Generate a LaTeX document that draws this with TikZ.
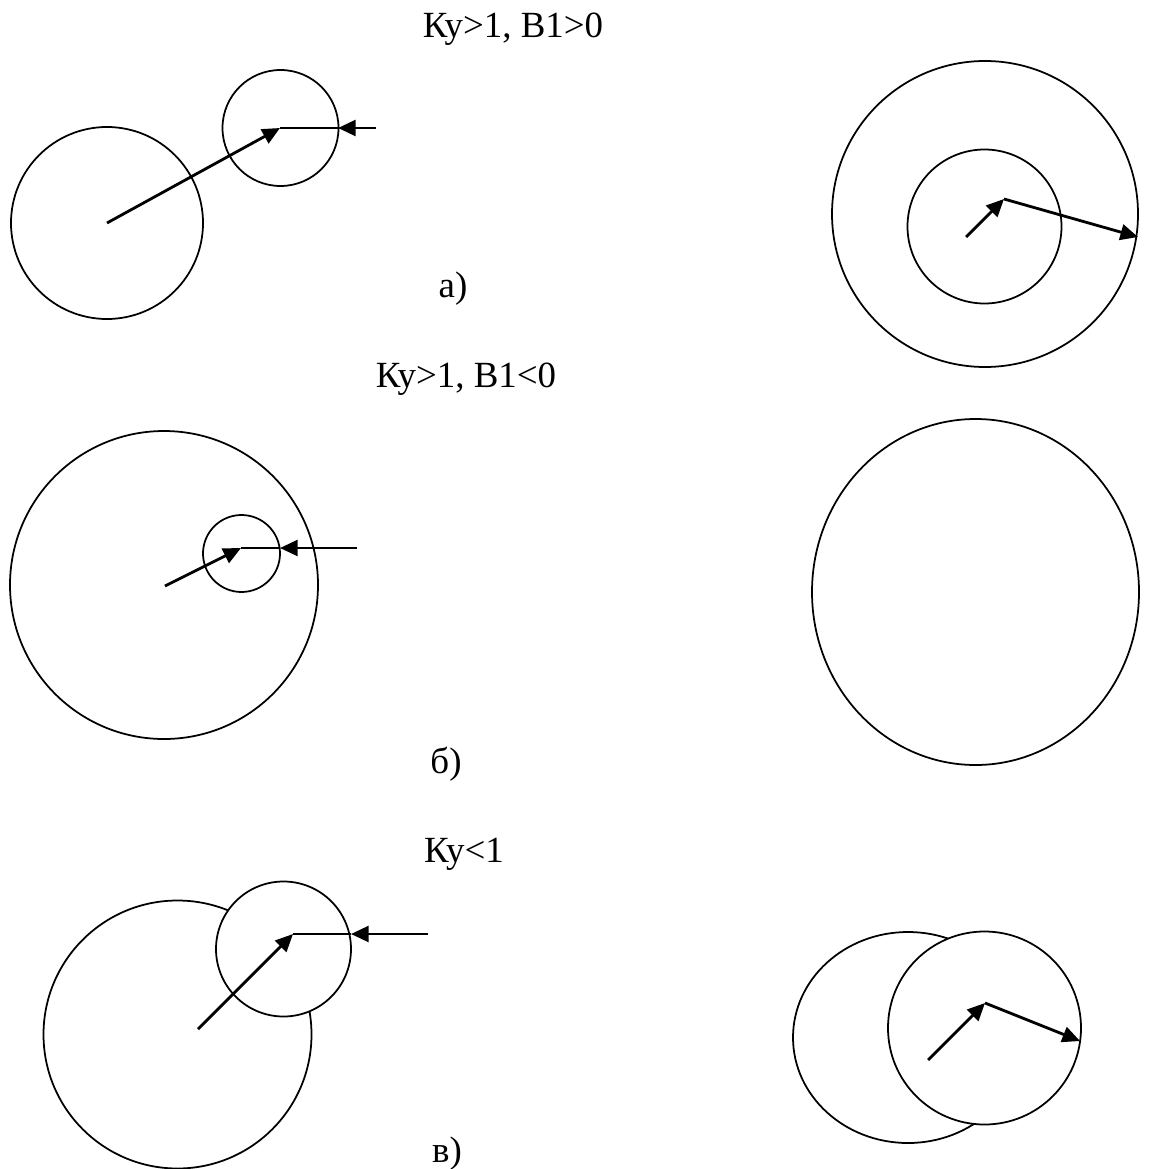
\documentclass[tikz,border=0pt]{standalone}
\usepackage{fontspec}
\setmainfont{Liberation Serif}
\usetikzlibrary{arrows.meta}

\tikzset{
  rim/.style={line width=1pt},
  vec/.style={->, line width=1.6pt},
  link/.style={line width=0.7pt},
  caption/.style={font=\fontsize{21}{25}\selectfont, anchor=base, inner sep=0pt},
}

\begin{document}
\begin{tikzpicture}[>={Triangle[length=10pt, width=9pt]}, x=0.02cm, y=-0.02cm]
\useasboundingbox (0,0) rectangle (1149,1169);

% === Случай а) ===
\node[caption] (titleA) at (513,38) {Ку>1, В1>0};
\coordinate (aO) at (107,223);
\coordinate (aP) at (280,128);
\coordinate (aE) at (338,128);
\coordinate (aF) at (376,128);
\draw[rim] (aO) circle[radius=96];
\draw[rim] (280.5,128) circle[radius=58];
\draw[vec] (aO) -- (aP);
\draw[link] (aP) -- (aE);
\draw[vec] (aF) -- (aE);
\node[caption] (labA) at (453,297) {а)};

% right
\coordinate (aS) at (966,237);
\coordinate (aT) at (1004,199);
\coordinate (aU) at (1138,237);
\draw[rim] (985,214) circle[radius=153];
\draw[rim] (984.5,226.5) circle[radius=77];
\draw[vec] (aS) -- (aT);
\draw[vec] (aT) -- (aU);

% === Случай б) ===
\node[caption] (titleB) at (466,387) {Ку>1, В1<0};
\coordinate (bO) at (165,586);
\coordinate (bP) at (241,548);
\coordinate (bE) at (280,548);
\coordinate (bF) at (357,548);
\draw[rim] (164,585) circle[radius=154];
\draw[rim] (241.5,553.5) circle[radius=38.5];
\draw[vec] (bO) -- (bP);
\draw[link] (bP) -- (bE);
\draw[vec] (bF) -- (bE);
\node[caption] (labB) at (446,773) {б)};

% right
\draw[rim] (975.5,592) ellipse[x radius=163.5, y radius=173];

% === Случай в) ===
\node[caption] (titleC) at (464,862) {Ку<1};
\coordinate (cO) at (198,1029);
\coordinate (cP) at (293,934);
\coordinate (cE) at (351,934);
\coordinate (cF) at (428,934);
\draw[rim] (177.5,1034.5) circle[radius=134];
\draw[rim, fill=white] (283.5,949) circle[radius=67.5];
\draw[vec] (cO) -- (cP);
\draw[link] (cP) -- (cE);
\draw[vec] (cF) -- (cE);
\node[caption] (labC) at (447,1162) {в)};

% right
\coordinate (cS) at (928,1060);
\coordinate (cT) at (985,1003);
\coordinate (cU) at (1080,1041);
\draw[rim] (908,1037.5) ellipse[x radius=115, y radius=105.5];
\draw[rim, fill=white] (984.5,1028) circle[radius=96.5];
\draw[vec] (cS) -- (cT);
\draw[vec] (cT) -- (cU);

\end{tikzpicture}
\end{document}
